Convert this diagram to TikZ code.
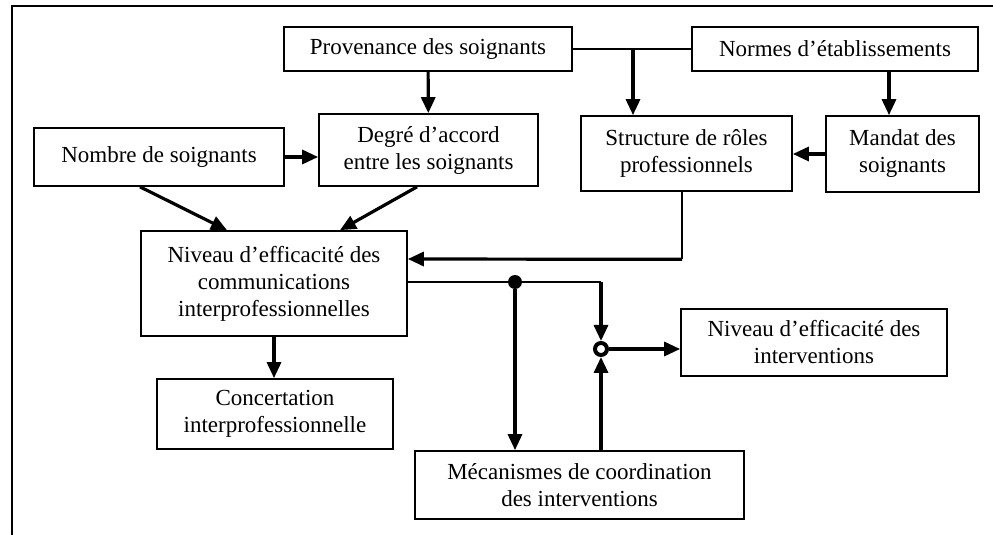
\documentclass[tikz,border=0pt]{standalone}
\usepackage{fontspec}
\setmainfont{Liberation Serif}
\usetikzlibrary{arrows.meta}
\begin{document}
\begin{tikzpicture}[x=0.5pt,y=-0.5pt,
  box/.style={draw, line width=0.85pt, align=center, inner sep=2pt,
    font=\fontsize{11.5}{13.5}\selectfont},
  arr/.style={line width=1.6pt, -{Triangle[length=8pt,width=7pt]}},
  thinline/.style={line width=0.8pt},
  dotnode/.style={circle, fill, inner sep=0pt, minimum size=7pt},
  sumnode/.style={circle, draw, line width=2pt, fill=white, inner sep=0pt, minimum size=6pt}]
  \useasboundingbox (0,0) rectangle (993,535);

  % outer frame (top and left sides)
  \draw[line width=0.9pt] (12,540) -- (12,6) -- (1000,6);

  % boxes
  \node[box, minimum width=144pt, minimum height=22pt] (prov) at (428,49) {Provenance des soignants};
  \node[box, minimum width=143pt, minimum height=22pt] (normes) at (835,49) {Normes d’établissements};
  \node[box, minimum width=125pt, minimum height=29pt] (nombre) at (159,157) {Nombre de soignants};
  \node[box, minimum width=109.5pt, minimum height=36pt] (degre) at (428.5,150) {Degré d’accord\\entre les soignants};
  \node[box, minimum width=105.5pt, minimum height=37.5pt] (struct) at (686.5,153.5) {Structure de rôles\\professionnels};
  \node[box, minimum width=76.5pt, minimum height=38pt] (mandat) at (902.5,154) {Mandat des\\soignants};
  \node[box, minimum width=133pt, minimum height=52.5pt] (comm) at (274,283.5) {Niveau d’efficacité des\\communications\\interprofessionnelles};
  \node[box, minimum width=118pt, minimum height=35pt] (concert) at (275,414) {Concertation\\interprofessionnelle};
  \node[box, minimum width=164.5pt, minimum height=34pt] (meca) at (579.5,485) {Mécanismes de coordination\\des interventions};
  \node[box, minimum width=133pt, minimum height=33.5pt] (interv) at (814,342.5) {Niveau d’efficacité des\\interventions};

  % junction points
  \coordinate (top) at (633,49);
  \coordinate (nx) at (889,0);
  \node[dotnode] (dot) at (515,282) {};
  \coordinate (jr) at (601,282);
  \node[sumnode] (sum) at (601,349) {};

  % connectors
  \draw[arr] (prov) -- (degre);
  \draw[arr] (nombre.east) -- (nombre.east -| degre.west);
  \draw[thinline] (prov.east) -- (normes.west);
  \draw[arr] (top) -- (top |- struct.north);
  \draw[arr] (normes.south -| nx) -- (mandat.north -| nx);
  \draw[arr] (mandat.west) -- (mandat.west -| struct.east);
  \draw[arr] ([xshift=-9.5pt]nombre.south) -- ([xshift=-23.5pt]comm.north);
  \draw[arr] ([xshift=-5.75pt]degre.south) -- ([xshift=33pt]comm.north);
  \draw[thinline] ([xshift=-2.25pt]struct.south) -- ([xshift=-2.25pt,yshift=-33.75pt]struct.south);
  \draw[arr] ([xshift=-2.25pt,yshift=-33.75pt]struct.south) -- ([yshift=12.25pt]comm.east);
  \draw[arr] (comm.south) -- (comm.south |- concert.north);
  \draw[thinline] ([yshift=0.75pt]comm.east) -- (dot);
  \draw[thinline] (dot) -- (jr);
  \draw[arr] (dot) -- (dot |- meca.north);
  \draw[arr] (jr) -- (sum);
  \draw[arr] (sum |- meca.north) -- (sum);
  \draw[arr] (sum) -- (sum -| interv.west);
\end{tikzpicture}
\end{document}
